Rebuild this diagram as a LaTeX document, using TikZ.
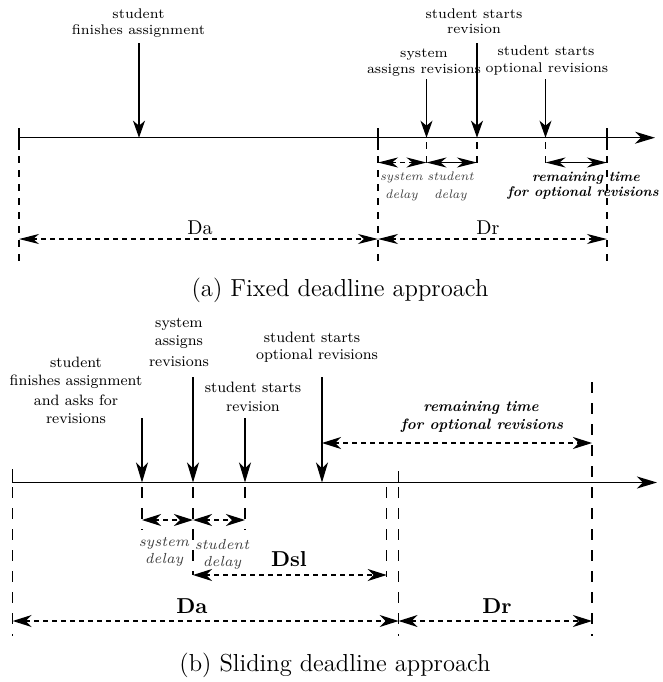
\documentclass[tikz,border=0pt]{standalone}
\usetikzlibrary{arrows.meta}
\begin{document}
\begin{tikzpicture}[x=0.5pt,y=-0.5pt,
  >={Stealth[length=10pt,width=5pt,inset=3pt]},
  tline/.style={line width=0.7pt,->,>={Stealth[length=10pt,width=6pt,inset=3pt]}},
  tickline/.style={line width=0.7pt},
  vdashA/.style={line width=0.6pt,dash pattern=on 3.5pt off 3.5pt},
  vdashB/.style={line width=0.6pt,dash pattern=on 5.5pt off 5pt},
  hdash/.style={dash pattern=on 2.5pt off 2pt},
  harrow/.style={line width=0.6pt,<->},
  harrowB/.style={line width=0.6pt,<->,>={Stealth[length=9.5pt,width=6pt,inset=3pt]}},
  evthick/.style={line width=0.9pt,->,>={Stealth[length=8.5pt,width=6pt,inset=2.5pt]}},
  evthin/.style={line width=0.6pt,->,>={Stealth[length=8.5pt,width=6pt,inset=2.5pt]}},
  evB/.style={line width=0.6pt,->,>={Stealth[length=10pt,width=6pt,inset=3pt]}},
  lblA/.style={font=\fontsize{7}{8}\selectfont,inner sep=0pt,anchor=base},
  itA/.style={font=\fontsize{6.2}{8}\selectfont\itshape,text=black!75,inner sep=0pt,anchor=base},
  bitA/.style={font=\fontsize{7}{8}\selectfont\bfseries\itshape,inner sep=0pt,anchor=base},
  lblB/.style={font=\fontsize{7.5}{9}\selectfont,inner sep=0pt,anchor=base},
  itB/.style={font=\fontsize{7.3}{9}\selectfont\itshape,text=black!75,inner sep=0pt,anchor=base},
  bitB/.style={font=\fontsize{7.5}{9}\selectfont\bfseries\itshape,inner sep=0pt,anchor=base},
  dA/.style={font=\fontsize{10}{12}\selectfont,inner sep=0pt,anchor=base},
  dB/.style={font=\fontsize{10.8}{13}\selectfont\bfseries,inner sep=0pt,anchor=base},
  captext/.style={font=\fontsize{12.3}{15}\selectfont,inner sep=0pt,anchor=base}
]
\useasboundingbox (0,0) rectangle (663,682);

% ================= (a) fixed deadline =================
\coordinate (a0) at (19,137.7);
\coordinate (aE) at (655,137.7);
\draw[tline] (a0) -- (aE);

\foreach \x/\n in {19/a1,378/a2,607/a3}{
  \coordinate (\n t) at (\x,128);
  \coordinate (\n m) at (\x,150);
  \coordinate (\n d) at (\x,156);
  \coordinate (\n b) at (\x,261);
}
\foreach \n in {a1,a2,a3}{
  \draw[tickline] (\n t) -- (\n m);
  \draw[vdashA] (\n d) -- (\n b);
}

% events
\coordinate (e1s) at (139,43);    \coordinate (e1) at (139,137.7);
\coordinate (e2s) at (426.5,79);  \coordinate (e2) at (426.5,137.7);
\coordinate (e3s) at (477,43);    \coordinate (e3) at (477,137.7);
\coordinate (e4s) at (545.5,79);  \coordinate (e4) at (545.5,137.7);
\draw[evthick] (e1s) -- (e1);
\draw[evthin]  (e2s) -- (e2);
\draw[evthick] (e3s) -- (e3);
\draw[evthin]  (e4s) -- (e4);

% short dashed ticks below
\foreach \x/\n in {426.5/e2,477/e3,545.5/e4}{
  \coordinate (\n u) at (\x,142);
  \coordinate (\n d) at (\x,162.5);
}
\foreach \n in {e2,e3,e4}{ \draw[vdashA] (\n u) -- (\n d); }

% delay arrows
\coordinate (h1) at (378,162.5);
\coordinate (h2) at (426.5,162.5);
\coordinate (h3) at (477,162.5);
\coordinate (h4) at (545.5,162.5);
\coordinate (h5) at (607,162.5);
\draw[harrow,hdash] (h1) -- (h2);
\draw[harrow] (h2) -- (h3);
\draw[harrow] (h4) -- (h5);

% labels
\node[lblA] (l1a) at (138.5,18) {student};
\node[lblA] (l1b) at (138.5,34) {finishes assignment};
\node[lblA] (l2a) at (424,57) {system};
\node[lblA] (l2b) at (424,73) {assigns revisions};
\node[lblA] (l3a) at (474,18) {student starts};
\node[lblA] (l3b) at (474,33) {revision};
\node[lblA] (l4a) at (546,55) {student starts};
\node[lblA] (l4b) at (547,72) {optional revisions};

\node[itA] (s1a) at (401.5,180) {system};
\node[itA] (s1b) at (401.5,198) {delay};
\node[itA] (s2a) at (450.5,180) {student};
\node[itA] (s2b) at (450.5,198) {delay};
\node[bitA] (r1a) at (586,181) {remaining time};
\node[bitA] (r1b) at (583,196) {for optional revisions};

% Da / Dr
\coordinate (m1) at (19,239);
\coordinate (m2) at (378,239);
\coordinate (m3) at (607,239);
\draw[harrow,hdash] (m1) -- (m2);
\draw[harrow,hdash] (m2) -- (m3);
\node[dA] (da1) at (200,234) {Da};
\node[dA] (dr1) at (488,234) {Dr};

\node[captext] (capa) at (340,296) {(a) Fixed deadline approach};

% ================= (b) sliding deadline =================
\coordinate (b0) at (12.7,482.5);
\coordinate (bE) at (657,482.5);
\draw[tline] (b0) -- (bE);

\coordinate (k1t) at (12.7,469);  \coordinate (k1m) at (12.7,482.5);
\coordinate (k1d) at (12.7,487);  \coordinate (k1b) at (12.7,636);
\draw[tickline] (k1t) -- (k1m);
\draw[vdashB] (k1d) -- (k1b);

\coordinate (k2t) at (398.6,471);  \coordinate (k2m) at (398.6,483);
\coordinate (k2d) at (398.6,487);  \coordinate (k2b) at (398.6,636);
\draw[tickline] (k2t) -- (k2m);
\draw[vdashB] (k2d) -- (k2b);

\coordinate (k3t) at (592,382);  \coordinate (k3b) at (592,636);
\draw[vdashB] (k3t) -- (k3b);

\coordinate (k4t) at (386.7,487);  \coordinate (k4b) at (386.7,577);
\draw[vdashB] (k4t) -- (k4b);

% events
\coordinate (f1s) at (142,418); \coordinate (f1) at (142,482.5);
\coordinate (f2s) at (193,377); \coordinate (f2) at (193,482.5);
\coordinate (f3s) at (245,418); \coordinate (f3) at (245,482.5);
\coordinate (f4s) at (322,377); \coordinate (f4) at (322,482.5);
\foreach \n in {f1,f2,f3,f4}{ \draw[evB] (\n s) -- (\n); }

\coordinate (f1u) at (142,487); \coordinate (f1d) at (142,530);
\coordinate (f2u) at (193,487); \coordinate (f2d) at (193,575);
\coordinate (f3u) at (245,487); \coordinate (f3d) at (245,530);
\foreach \n in {f1,f2,f3}{ \draw[vdashB] (\n u) -- (\n d); }

% delay arrows
\coordinate (g1) at (142,520);
\coordinate (g2) at (193,520);
\coordinate (g3) at (245,520);
\draw[harrowB,hdash] (g1) -- (g2);
\draw[harrowB,hdash] (g2) -- (g3);

% Dsl
\coordinate (q1) at (193,575);
\coordinate (q2) at (386.7,575);
\draw[harrowB,hdash] (q1) -- (q2);

% remaining time
\coordinate (w1) at (322,443);
\coordinate (w2) at (592,443);
\draw[harrowB,hdash] (w1) -- (w2);

% Da / Dr
\coordinate (n1) at (12.7,621);
\coordinate (n2) at (398.6,621);
\coordinate (n3) at (592,621);
\draw[harrowB,hdash] (n1) -- (n2);
\draw[harrowB,hdash] (n2) -- (n3);

% labels
\node[lblB] (u1a) at (76,367) {student};
\node[lblB] (u1b) at (76,385) {finishes assignment};
\node[lblB] (u1c) at (76,405) {and asks for};
\node[lblB] (u1d) at (76,423) {revisions};
\node[lblB] (u2a) at (179,327) {system};
\node[lblB] (u2b) at (179,345) {assigns};
\node[lblB] (u2c) at (179,366) {revisions};
\node[lblB] (u3a) at (253,392) {student starts};
\node[lblB] (u3b) at (253,411) {revision};
\node[lblB] (u4a) at (312,342) {student starts};
\node[lblB] (u4b) at (317,359) {optional revisions};

\node[bitB] (v1a) at (481,411) {remaining time};
\node[bitB] (v1b) at (482,429) {for optional revisions};

\node[itB] (x1a) at (164,546) {system};
\node[itB] (x1b) at (164,563) {delay};
\node[itB] (x2a) at (222,549) {student};
\node[itB] (x2b) at (222,566) {delay};

\node[dB] (dsl) at (289,566) {Dsl};
\node[dB] (da2) at (192,613) {Da};
\node[dB] (dr2) at (497,613) {Dr};

\node[captext] (capb) at (335,671) {(b) Sliding deadline approach};
\end{tikzpicture}
\end{document}
